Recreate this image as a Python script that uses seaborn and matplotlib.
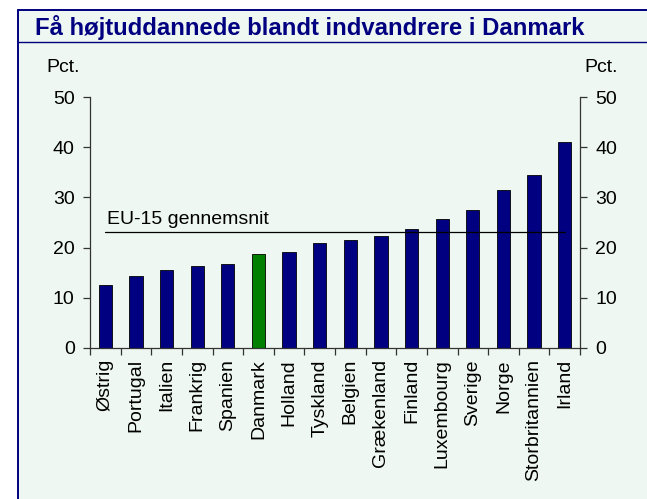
import matplotlib
matplotlib.use("Agg")
import matplotlib.pyplot as plt
import seaborn as sns
import numpy as np

# data
countries = ['Østrig', 'Portugal', 'Italien', 'Frankrig', 'Spanien', 'Danmark',
             'Holland', 'Tyskland', 'Belgien', 'Grækenland', 'Finland',
             'Luxembourg', 'Sverige', 'Norge', 'Storbritannien', 'Irland']
values = [12.6, 14.4, 15.5, 16.3, 16.7, 18.8, 19.2, 21.0, 21.5, 22.4, 23.8,
          25.6, 27.4, 31.4, 34.4, 41.0]
eu15_avg = 23.1
eu15_label = 'EU-15 gennemsnit'
title = 'Få højtuddannede blandt indvandrere i Danmark'
unit = 'Pct.'
yticks = [0, 10, 20, 30, 40, 50]

bg = '#EEF7F1'
navy = '#000080'
colors = ['#008000' if c == 'Danmark' else navy for c in countries]

sns.set_theme(style='white')
plt.rcParams['font.family'] = ['Liberation Sans', 'DejaVu Sans']
plt.rcParams['text.color'] = 'black'
plt.rcParams['xtick.color'] = 'black'
plt.rcParams['ytick.color'] = 'black'

fig = plt.figure(figsize=(6.47, 4.99), dpi=100)
fig.patch.set_facecolor('white')
W, H = 647, 499

# panel background and frame (behind the axes)
fig.patches.append(plt.Rectangle((18 / W, -0.01), 1, 1.01 - 10 / H, transform=fig.transFigure,
                                 facecolor=bg, edgecolor=navy, linewidth=1.4, zorder=-5))
fig.lines.append(plt.Line2D([18 / W, 1], [1 - 42 / H, 1 - 42 / H], transform=fig.transFigure,
                            color=navy, linewidth=1.0, zorder=-4))
fig.text(35 / W, 1 - 27 / H, title, color=navy, fontsize=17.2, fontweight='bold',
         ha='left', va='center')

ax = fig.add_axes([90 / W, 1 - 348 / H, (580 - 90) / W, (348 - 97) / H])
ax.set_facecolor('none')

sns.barplot(x=countries, y=values, hue=countries, palette=colors, legend=False,
            width=0.43, edgecolor='black', linewidth=0.6, saturation=1, ax=ax)

ax.plot([0, len(countries) - 1], [eu15_avg, eu15_avg], color='black', linewidth=0.9)
ax.text(0.05, eu15_avg + 0.9, eu15_label, fontsize=14, color='black', ha='left', va='bottom')

ax.set_xlim(-0.5, len(countries) - 0.5)
ax.set_ylim(0, 50)
ax.set_yticks(yticks)
ax.set_xticks(range(len(countries)))
ax.set_xticklabels(countries, rotation=90, fontsize=14, color='black')
ax.set_xticks(np.arange(-0.5, len(countries)), minor=True)
ax.tick_params(axis='x', which='major', length=0, pad=8)
ax.tick_params(axis='x', which='minor', length=5, width=0.9, color='#333333', direction='out', bottom=True)
ax.tick_params(axis='y', which='major', length=5, width=0.9, color='#333333', labelcolor='black',
               direction='out', left=True, right=True, labelleft=True, labelright=True,
               labelsize=14, pad=6)
ax.set_xlabel('')
ax.set_ylabel('')

for s in ['left', 'right', 'bottom']:
    ax.spines[s].set_visible(True)
    ax.spines[s].set_color('#333333')
    ax.spines[s].set_linewidth(0.9)
ax.spines['top'].set_visible(False)

fig.text(63 / W, 1 - 68 / H, unit, fontsize=14, color='black', ha='center', va='center')
fig.text(601 / W, 1 - 68 / H, unit, fontsize=14, color='black', ha='center', va='center')

fig.savefig('out.png', dpi=100)
